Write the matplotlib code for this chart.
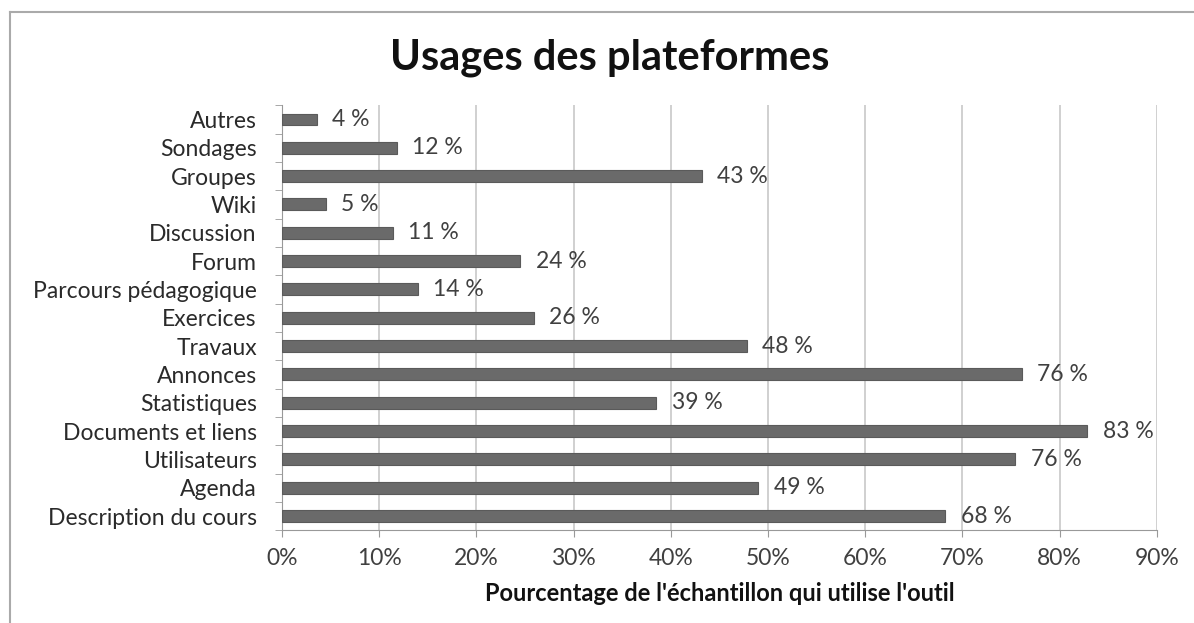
import matplotlib.pyplot as plt
import numpy as np
from matplotlib.lines import Line2D

# categories, bottom to top as drawn
categories = ["Description du cours", "Agenda", "Utilisateurs", "Documents et liens",
              "Statistiques", "Annonces", "Travaux", "Exercices", "Parcours pédagogique",
              "Forum", "Discussion", "Wiki", "Groupes", "Sondages", "Autres"]
values = [68.2, 49.0, 75.4, 82.8, 38.5, 76.1, 47.8, 25.9, 14.0, 24.5, 11.4, 4.5, 43.2, 11.8, 3.6]
labels = ["68 %", "49 %", "76 %", "83 %", "39 %", "76 %", "48 %", "26 %", "14 %",
          "24 %", "11 %", "5 %", "43 %", "12 %", "4 %"]
xticks = [0, 10, 20, 30, 40, 50, 60, 70, 80, 90]

plt.rcParams['font.family'] = ['Lato', 'DejaVu Sans']

fig = plt.figure(figsize=(11.94, 6.23), dpi=100)
ax = fig.add_axes([0.236, 0.149, 0.733, 0.682])

y = np.arange(len(categories))
ax.barh(y, values, height=0.42, color="#6a6a6a", edgecolor="#5a5a5a", linewidth=0.8, zorder=3)
for yi, v, lab in zip(y, values, labels):
    ax.text(v + 1.6, yi, lab, va="center", ha="left", fontsize=16.5, color="#404040")

ax.set_xlim(0, 90)
ax.set_ylim(-0.5, len(categories) - 0.5)
ax.set_xticks(xticks)
ax.set_xticklabels([f"{t}%" for t in xticks], fontsize=16.5, color="#404040")
ax.set_yticks(y)
ax.set_yticklabels(categories, fontsize=16.5, color="#2a2a2a")
ax.set_yticks(np.arange(-0.5, len(categories)), minor=True)
ax.tick_params(axis="y", which="major", length=0, pad=18)
ax.tick_params(axis="y", which="minor", length=5, color="#999999", direction="out")
ax.tick_params(axis="x", length=5, color="#999999", pad=8)

ax.grid(axis="x", color="#c8c8c8", linewidth=1.2, zorder=0)
for s in ["top", "right"]:
    ax.spines[s].set_visible(False)
for s in ["left", "bottom"]:
    ax.spines[s].set_color("#999999")

ax.set_xlabel("Pourcentage de l'échantillon qui utilise l'outil", fontsize=17,
              fontweight="bold", color="#111111", labelpad=9)
fig.text(0.511, 0.907, "Usages des plateformes", ha="center", va="center",
         fontsize=30, fontweight="bold", color="#111111")

# chart frame (top and left edges visible)
fig.add_artist(Line2D([0.008, 1.0], [0.981, 0.981], color="#aaaaaa", lw=1.5))
fig.add_artist(Line2D([0.008, 0.008], [0.0, 0.981], color="#aaaaaa", lw=1.5))

fig.savefig("out.png", dpi=100)
